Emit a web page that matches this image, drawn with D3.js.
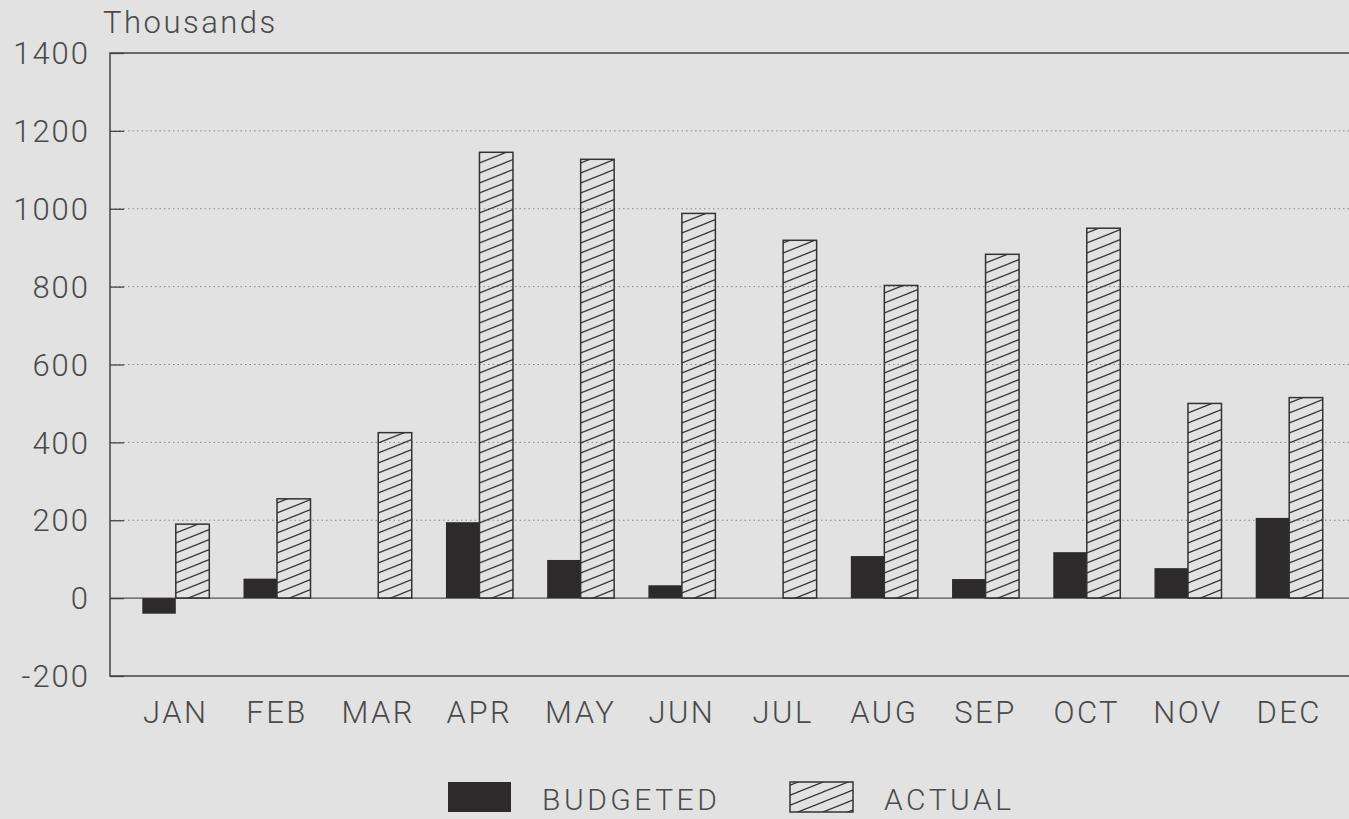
<!DOCTYPE html>
<html>
<head>
<meta charset="utf-8">
<script src="https://cdn.jsdelivr.net/npm/d3@7"></script>
<style>
  body { margin: 0; background: #e2e2e2; overflow: hidden; }
  text { font-family: Roboto, "Liberation Sans", sans-serif; font-weight: 300; fill: #4a4a4a; }
</style>
</head>
<body>
<div class="chart"></div>
<script>
// chart data (thousands)
var months = ["JAN", "FEB", "MAR", "APR", "MAY", "JUN", "JUL", "AUG", "SEP", "OCT", "NOV", "DEC"];
var budgeted = [-40, 50, 0, 195, 98, 33, 0, 108, 49, 118, 77, 206];
var actual = [190, 255, 425, 1145, 1127, 988, 919, 803, 883, 950, 500, 515];
var yTicks = [-200, 0, 200, 400, 600, 800, 1000, 1200, 1400];
var seriesNames = ["BUDGETED", "ACTUAL"];

var svgWidth = 1349;
var svgHeight = 819;

var margin = { top: 53, left: 110, right: -6, bottom: 143 };
var width = svgWidth - margin.left - margin.right;
var height = svgHeight - margin.top - margin.bottom;

var svg = d3.select(".chart")
  .append("svg")
  .attr("width", svgWidth)
  .attr("height", svgHeight);

// hatch for the actual bars
var defs = svg.append("defs");
defs.append("pattern")
  .attr("id", "hatch")
  .attr("patternUnits", "userSpaceOnUse")
  .attr("width", 25)
  .attr("height", 10)
  .append("path")
  .attr("d", "M-5,12L30,-2M-30,12L5,-2M20,12L55,-2")
  .attr("stroke", "#333")
  .attr("stroke-width", 1.2)
  .attr("fill", "none");

var chartGroup = svg.append("g")
  .attr("transform", `translate(${margin.left}, ${margin.top})`);

var y = d3.scaleLinear().domain([-200, 1400]).range([height, 0]);

var x = d3.scalePoint().domain(months).range([0, width]).padding(0.65);

var sub = d3.scaleBand().domain(seriesNames).range([-33.5, 33.5]);

// dotted gridlines
chartGroup.append("g")
  .selectAll("line")
  .data(yTicks.filter(d => d > 0 && d < 1400))
  .join("line")
    .attr("x1", 0)
    .attr("x2", width)
    .attr("y1", d => y(d))
    .attr("y2", d => y(d))
    .attr("stroke", "#888")
    .attr("stroke-width", 1)
    .attr("stroke-dasharray", "1.5,3");

// zero line
chartGroup.append("line")
  .attr("x1", 0)
  .attr("x2", width)
  .attr("y1", y(0))
  .attr("y2", y(0))
  .attr("stroke", "#555")
  .attr("stroke-width", 1.2);

// left axis with short inward ticks
var yAxis = d3.axisRight(y).tickValues(yTicks).tickSize(14).tickFormat("");
chartGroup.append("g")
  .attr("class", "y-axis")
  .call(yAxis)
  .call(g => g.select(".domain").remove())
  .selectAll("line")
    .attr("stroke", "#444")
    .attr("stroke-width", 1.3);

// frame
chartGroup.append("path")
  .attr("d", `M${width},0H0V${height}H${width}`)
  .attr("fill", "none")
  .attr("stroke", "#444")
  .attr("stroke-width", 1.5);

// tick labels
chartGroup.append("g")
  .selectAll("text")
  .data(yTicks)
  .join("text")
    .attr("x", -20)
    .attr("y", d => y(d))
    .attr("dy", "0.36em")
    .attr("text-anchor", "end")
    .style("font-size", "31px")
    .style("letter-spacing", "2px")
    .text(d => d);

// bars
var rows = months.map((m, i) => ({ month: m, BUDGETED: budgeted[i], ACTUAL: actual[i] }));

var groups = chartGroup.append("g")
  .selectAll("g")
  .data(rows)
  .join("g")
    .attr("transform", d => `translate(${x(d.month)},0)`);

groups.append("rect")
  .attr("x", sub("BUDGETED"))
  .attr("width", sub.bandwidth())
  .attr("y", d => y(Math.max(0, d.BUDGETED)))
  .attr("height", d => Math.abs(y(d.BUDGETED) - y(0)))
  .attr("fill", "#2d2a2b");

groups.append("rect")
  .attr("x", sub("ACTUAL"))
  .attr("width", sub.bandwidth())
  .attr("y", d => y(Math.max(0, d.ACTUAL)))
  .attr("height", d => Math.abs(y(d.ACTUAL) - y(0)))
  .attr("fill", "url(#hatch)")
  .attr("stroke", "#333")
  .attr("stroke-width", 1.5);

// month labels
chartGroup.append("g")
  .selectAll("text")
  .data(months)
  .join("text")
    .attr("x", d => x(d))
    .attr("y", height + 47)
    .attr("text-anchor", "middle")
    .style("font-size", "31px")
    .style("letter-spacing", "2.5px")
    .text(d => d);

// unit label
svg.append("text")
  .attr("x", 103)
  .attr("y", 33)
  .style("font-size", "31px")
  .style("letter-spacing", "2.5px")
  .text("Thousands");

// legend
var legend = svg.append("g").attr("transform", "translate(448,782)");
var legendX = [0, 342];

legend.selectAll("rect")
  .data(seriesNames)
  .join("rect")
    .attr("x", (d, i) => legendX[i])
    .attr("y", 0)
    .attr("width", 63)
    .attr("height", 30)
    .attr("fill", (d, i) => i === 0 ? "#2d2a2b" : "url(#hatch)")
    .attr("stroke", (d, i) => i === 0 ? "none" : "#333")
    .attr("stroke-width", 1.5);

legend.selectAll("text")
  .data(seriesNames)
  .join("text")
    .attr("x", (d, i) => legendX[i] + 94)
    .attr("y", 28)
    .style("font-size", "30px")
    .style("letter-spacing", "3.5px")
    .text(d => d);
</script>
</body>
</html>
